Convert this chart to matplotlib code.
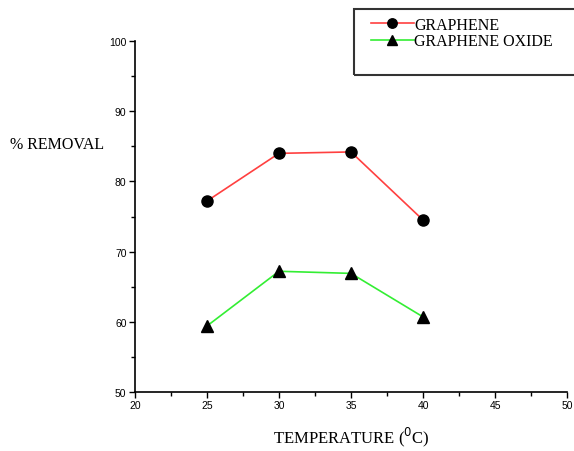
import matplotlib
matplotlib.use("Agg")
import matplotlib.pyplot as plt
from matplotlib.patches import Rectangle
from matplotlib.ticker import MultipleLocator

temperature = [25, 30, 35, 40]
graphene = [77.2, 84.0, 84.2, 74.5]
graphene_oxide = [59.4, 67.2, 66.9, 60.7]

fig = plt.figure(figsize=(5.74, 4.52), dpi=100)
ax = fig.add_axes([0.235, 0.1305, 0.753, 0.7765])

ax.plot(temperature, graphene, color='#ff4040', lw=1.2, marker='o', ms=8,
        mfc='black', mec='black', label='GRAPHENE')
ax.plot(temperature, graphene_oxide, color='#33ee33', lw=1.2, marker='^', ms=9,
        mfc='black', mec='black', label='GRAPHENE OXIDE')

ax.set_xlim(20, 50)
ax.set_ylim(50, 100)
ax.xaxis.set_major_locator(MultipleLocator(5))
ax.xaxis.set_minor_locator(MultipleLocator(2.5))
ax.yaxis.set_major_locator(MultipleLocator(10))
ax.yaxis.set_minor_locator(MultipleLocator(5))
for s in ['top', 'right']:
    ax.spines[s].set_visible(False)
for s in ['left', 'bottom']:
    ax.spines[s].set_linewidth(1.2)
ax.tick_params(which='both', direction='out', width=1, labelsize=7.5, pad=2)
ax.tick_params(which='major', length=4)
ax.tick_params(which='minor', length=3)
for lab in ax.get_xticklabels() + ax.get_yticklabels():
    lab.set_family('Liberation Sans')

ax.set_xlabel('TEMPERATURE ($^{0}$C)', family='Liberation Serif', fontsize=12, labelpad=10)
fig.text(0.017, 0.68, '% REMOVAL', family='Liberation Serif', fontsize=11.5,
         ha='left', va='center')

fig.patches.append(Rectangle((0.616, 0.832), 0.4, 0.146, transform=fig.transFigure,
                             fill=False, ec='#333333', lw=1.5))
fig.legend(loc='upper left', bbox_to_anchor=(0.635, 0.975), frameon=False,
           prop={'family': 'Liberation Serif', 'size': 11.5}, handlelength=2.7,
           handletextpad=0.0, labelspacing=0.05, borderaxespad=0, markerscale=0.85)

plt.savefig('out.png', dpi=100)
plt.close()
